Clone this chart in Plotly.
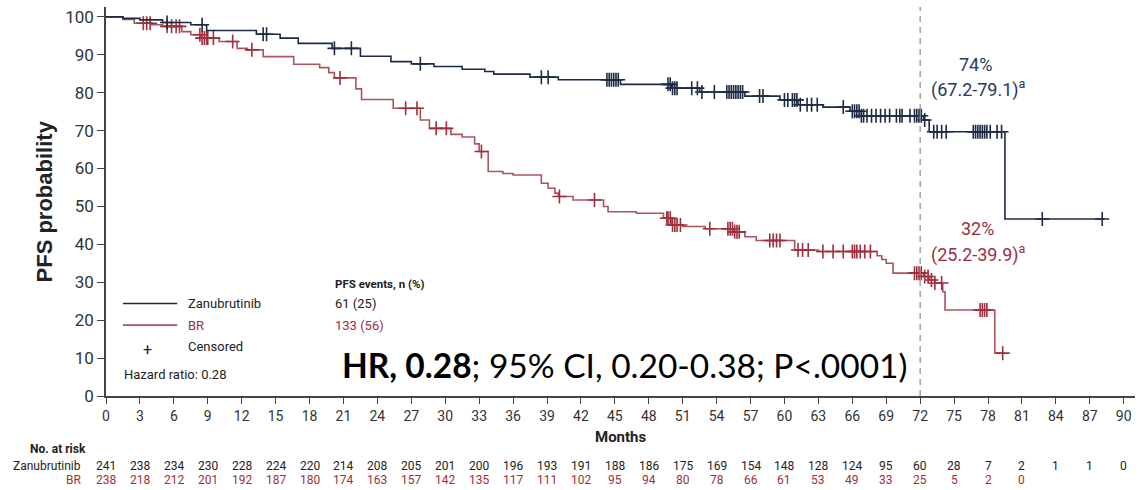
import numpy as np
import plotly.graph_objects as go

# Kaplan-Meier step curves (months, PFS %)
zan_time = [0, 1.5, 3.0, 5.0, 7.5, 8.9, 13.3, 15.4, 17.0, 20.0, 22.5, 25.2, 27.0, 29.0, 31.5,
            33.5, 34.3, 37.5, 40.0, 45.5, 50.0, 52.5, 56.5, 59.6, 61.2, 63.4, 65.8, 66.8,
            72.3, 72.8, 79.5, 88.3]
zan_surv = [100, 99.6, 99.2, 98.5, 97.9, 96.4, 95.4, 94.4, 93.0, 91.7, 89.6, 88.2, 87.6, 86.9,
            86.2, 85.6, 84.9, 84.1, 83.4, 82.2, 81.2, 80.2, 79.1, 78.1, 76.8, 76.2, 75.1, 73.9,
            72.8, 69.7, 46.7, 46.7]

br_time = [0, 1.5, 2.5, 4.0, 5.0, 6.7, 7.5, 8.4, 10.0, 11.6, 12.5, 13.9, 16.6, 18.9, 19.7,
           20.2, 22.1, 22.6, 25.4, 27.8, 28.6, 30.5, 31.5, 32.6, 33.0, 33.8, 35.1, 36.0, 38.5,
           39.1, 39.7, 40.0, 41.3, 44.0, 44.4, 46.9, 49.3, 50.0, 51.0, 53.0, 55.5, 56.5, 57.5,
           60.9, 63.0, 68.2, 68.6, 69.0, 69.6, 72.3, 72.8, 73.3, 74.0, 74.2, 78.6, 79.5]
br_surv = [100, 99.3, 98.3, 97.9, 97.5, 96.1, 95.3, 94.4, 93.5, 91.7, 91.3, 89.5, 87.5, 86.6,
           85.3, 83.9, 81.0, 78.2, 75.9, 72.8, 70.6, 69.0, 68.3, 66.5, 64.5, 59.2, 58.7, 58.3,
           56.1, 54.8, 53.5, 52.6, 51.7, 50.0, 48.6, 48.2, 46.9, 45.1, 44.7, 44.1, 43.3, 42.0,
           41.0, 38.5, 38.1, 37.0, 36.0, 35.0, 32.4, 31.5, 30.6, 29.8, 27.5, 22.7, 11.3, 11.3]

# Censoring times (months)
zan_cens = [5.4, 8.5, 13.9, 14.2, 20.2, 21.7, 27.8, 38.5, 39.1, 44.3, 44.5, 44.7, 44.9, 45.1,
            45.3, 49.7, 49.9, 50.1, 50.3, 50.5, 51.8, 52.3, 52.7, 53.8, 54.9, 55.1, 55.3, 55.5,
            55.7, 55.9, 56.1, 56.3, 57.8, 58.1, 60.0, 60.3, 60.7, 60.9, 61.1, 61.4, 62.0, 62.4,
            62.9, 65.2, 66.0, 66.2, 66.4, 66.6, 66.8, 67.0, 67.3, 67.7, 68.1, 68.5, 68.9, 69.3,
            69.9, 70.2, 70.4, 71.1, 71.5, 71.7, 71.9, 72.1, 72.4, 73.2, 73.5, 73.9, 74.3, 76.7,
            76.9, 77.1, 77.3, 77.5, 77.7, 77.9, 78.2, 78.8, 79.2, 82.8, 88.1]
br_cens = [3.3, 3.6, 3.9, 5.4, 5.8, 6.2, 6.5, 8.3, 8.5, 8.7, 8.9, 9.0, 9.5, 11.2, 12.9, 20.7,
           26.5, 27.5, 29.2, 30.1, 33.2, 40.1, 43.2, 49.6, 49.7, 49.9, 50.1, 50.3, 50.5, 50.8,
           53.4, 55.0, 55.2, 55.4, 55.6, 55.8, 56.0, 58.7, 59.0, 59.3, 59.6, 61.2, 61.6, 62.1,
           63.4, 64.3, 65.2, 66.0, 66.2, 66.4, 66.7, 67.1, 67.6, 71.5, 71.7, 71.9, 72.1, 72.4,
           72.7, 73.0, 73.3, 73.9, 77.3, 77.5, 77.7, 77.9, 79.3]

# Numbers at risk
risk_months = list(range(0, 91, 3))
zan_risk = [241, 238, 234, 230, 228, 224, 220, 214, 208, 205, 201, 200, 196, 193, 191, 188,
            186, 175, 169, 154, 148, 128, 124, 95, 60, 28, 7, 2, 1, 1, 0]
br_risk = [238, 218, 212, 201, 192, 187, 180, 174, 163, 157, 142, 135, 117, 111, 102, 95, 94,
           80, 78, 66, 61, 53, 49, 33, 25, 5, 2, 0]

NAVY = "#1d2b45"
NAVY_TXT = "#243a5e"
RED_LINE = "#a9555d"
RED = "#a02f3c"
INK = "#222222"
AXIS = "#444444"


def step_value(times, surv, t):
    idx = np.searchsorted(np.asarray(times), np.asarray(t), side="right") - 1
    return np.asarray(surv)[idx]


fig = go.Figure()

for times, surv, cens, lc, mc in [
    (br_time, br_surv, br_cens, RED_LINE, RED),
    (zan_time, zan_surv, zan_cens, NAVY, NAVY),
]:
    fig.add_trace(go.Scatter(x=times, y=surv, mode="lines", line=dict(color=lc, width=1.6, shape="hv"),
                             hoverinfo="skip", showlegend=False))
    fig.add_trace(go.Scatter(x=cens, y=step_value(times, surv, cens), mode="markers",
                             marker=dict(symbol="cross-thin", size=10,
                                         line=dict(color=mc, width=1.6)),
                             hoverinfo="skip", showlegend=False))

annotations = []


def note(text, x, y, size=13, color=INK, xanchor="left", xref="x", yref="y", bold=False,
         family="Roboto", **kw):
    if bold:
        text = "<b>" + text + "</b>"
    annotations.append(dict(text=text, x=x, y=y, xref=xref, yref=yref, xanchor=xanchor,
                            yanchor="middle", showarrow=False,
                            font=dict(size=size, color=color, family=family), **kw))


# Legend block
note("Zanubrutinib", 7.1, 24.4)
note("BR", 7.1, 18.7, color=RED)
note("+", 3.7, 12.3, size=16, xanchor="center")
note("Censored", 7.1, 13.0)
note("Hazard ratio: 0.28", 1.4, 5.6)
note("PFS events, n (%)", 20.1, 29.5, size=11.5, bold=True)
note("61 (25)", 20.1, 24.4)
note("133 (56)", 20.1, 18.7, color=RED)
note("<b>HR, 0.28</b>; 95% CI, 0.20-0.38; P<.0001)", 20.7, 8.2, size=33.5, color="#000000",
     family="Lato")

# Landmark estimates at 72 months
note("74%", 76.9, 87.5, size=18, color=NAVY_TXT, xanchor="center")
note("(67.2-79.1)<sup>a</sup>", 77.2, 81.0, size=18, color=NAVY_TXT, xanchor="center")
note("32%", 77.1, 44.3, size=18, color=RED, xanchor="center")
note("(25.2-39.9)<sup>a</sup>", 77.2, 37.7, size=18, color=RED, xanchor="center")

# Axis titles
note("PFS probability", -0.0593, 0.50, size=22, xref="paper", yref="paper", bold=True,
     xanchor="center", textangle=-90, family="Liberation Sans")
note("Months", 45.5, -0.105, size=15, yref="paper", bold=True, xanchor="center")

# Number-at-risk table
ROW_HEAD = -0.137
ROW_ZAN = -0.18
ROW_BR = -0.216
note("No. at risk", -0.076, ROW_HEAD, size=12, xref="paper", yref="paper", bold=True)
note("Zanubrutinib", -0.022, ROW_ZAN, size=12, xref="paper", yref="paper", xanchor="right")
note("BR", -0.022, ROW_BR, size=12, xref="paper", yref="paper", xanchor="right", color=RED)
for m, n in zip(risk_months, zan_risk):
    note(str(n), m, ROW_ZAN, size=12, yref="paper", xanchor="center")
for m, n in zip(risk_months, br_risk):
    note(str(n), m, ROW_BR, size=12, yref="paper", xanchor="center", color=RED)

shapes = [
    dict(type="line", xref="x", yref="y", x0=72, x1=72, y0=0, y1=102.6,
         line=dict(color="#8a8a8a", width=1.2, dash="6px,5px")),
    dict(type="line", xref="x", yref="y", x0=1.5, x1=6.3, y0=24.4, y1=24.4,
         line=dict(color=NAVY, width=1.6)),
    dict(type="line", xref="x", yref="y", x0=1.5, x1=6.3, y0=18.7, y1=18.7,
         line=dict(color=RED_LINE, width=1.6)),
]

fig.update_layout(
    width=1147, height=490,
    margin=dict(l=106, r=12, t=7, b=94),
    paper_bgcolor="white", plot_bgcolor="white",
    annotations=annotations, shapes=shapes,
    xaxis=dict(range=[0, 91], tickvals=risk_months, ticks="outside", ticklen=6, tickwidth=1.3,
               tickcolor=AXIS, showline=True, linecolor=AXIS, linewidth=1.6, showgrid=False,
               zeroline=False, tickfont=dict(family="Roboto", size=14, color="#333333")),
    yaxis=dict(range=[0, 102.6], tickvals=list(range(0, 101, 10)), ticks="outside", ticklen=7,
               tickwidth=1.3, tickcolor=AXIS, showline=True, linecolor=AXIS, linewidth=1.6,
               showgrid=False, zeroline=False,
               tickfont=dict(family="Roboto", size=17, color="#333333")),
)

fig.write_html("out.html")
